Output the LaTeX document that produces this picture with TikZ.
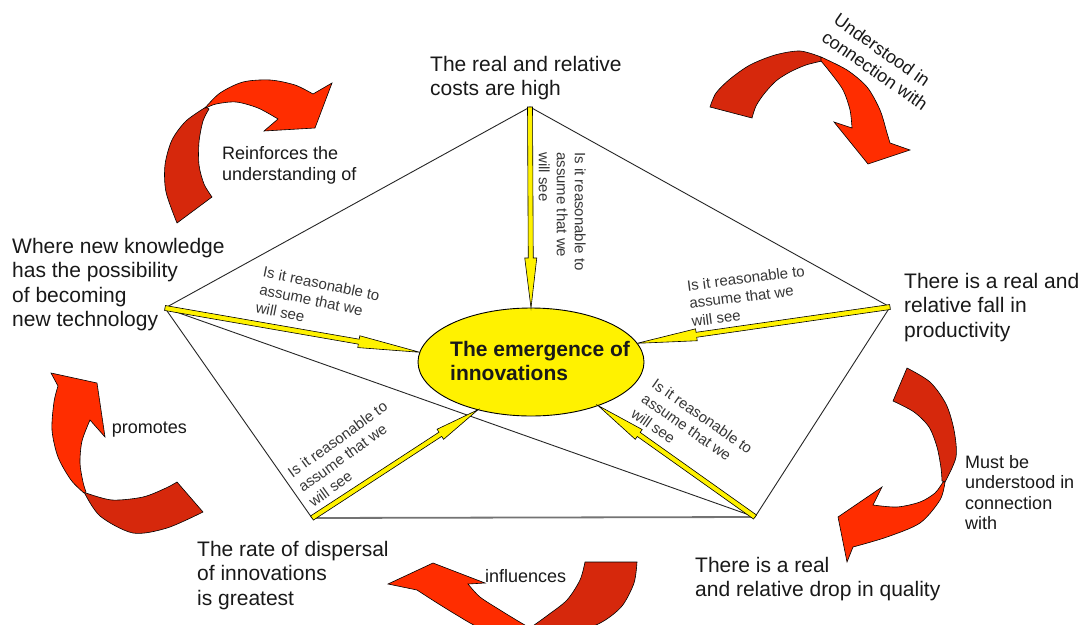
\documentclass[tikz,border=0pt]{standalone}
\usepackage{fontspec}
\setmainfont{Liberation Sans}
\usetikzlibrary{calc,shapes.geometric}
\definecolor{redfront}{RGB}{255,45,0}
\definecolor{redback}{RGB}{214,40,12}
\definecolor{txt}{RGB}{25,25,25}
\definecolor{txtsmall}{RGB}{55,55,55}
\tikzset{
  yarrow/.style={fill=yellow, draw=black, line width=0.6pt, line join=miter},
  redf/.style={fill=redfront, draw=black, line width=0.6pt},
  redb/.style={fill=redback, draw=black, line width=0.6pt},
  pentline/.style={draw=black!85, line width=0.9pt},
  bottomline/.style={draw=black!55, line width=1.8pt},
  mainlbl/.style={font=\fontsize{21}{24.5}\selectfont, text=txt, align=left, inner sep=0pt, anchor=north west},
  smalllbl/.style={font=\fontsize{18}{21}\selectfont, text=txt, align=left, inner sep=0pt, anchor=north west},
  qlbl/.style={font=\fontsize{15}{18}\selectfont, text=txtsmall, align=left, inner sep=0pt, anchor=north west},
}
% yellow block arrow: #1 start, #2 end, #3 head length
\newcommand\yarr[3]{%
  \coordinate (h-#1) at ($(#2)!#3pt!(#1)$);
  \filldraw[yarrow] ($(#1)!2.5pt!90:(#2)$) -- ($(h-#1)!2.5pt!90:(#2)$) -- ($(h-#1)!6pt!90:(#2)$) -- (#2)
    -- ($(h-#1)!6pt!-90:(#2)$) -- ($(h-#1)!2.5pt!-90:(#2)$) -- ($(#1)!2.5pt!-90:(#2)$) -- cycle;}
\begin{document}
\begin{tikzpicture}[x=1pt,y=-1pt]
\useasboundingbox (0,0) rectangle (1081,624);
\clip (0,0) rectangle (1081,624);
\fill[white] (0,0) rectangle (1081,624);

% vertices
\coordinate (vT) at (530,107);
\coordinate (vL) at (165,308);
\coordinate (vR) at (890,307);
\coordinate (vBR) at (755,517);
\coordinate (vBL) at (312,518);

% pentagon and diagonal
\draw[pentline] (vT) -- (vL);
\draw[pentline] (vT) -- (vR);
\draw[pentline] (vR) -- (vBR);
\draw[pentline] (vL) -- (vBL);
\draw[pentline] (vL) -- (vBR);
\draw[bottomline] (vBL) -- (vBR);

% central ellipse
\node[ellipse, minimum width=226pt, minimum height=108pt, inner sep=0pt, outer sep=0pt,
      fill=yellow, draw=black, line width=0.9pt] (ell) at (531,362) {};
\node[mainlbl, font=\fontsize{21}{24}\selectfont\bfseries] (lC) at (450,341) {The emergence of\\innovations};

% yellow arrows
\yarr{vT}{ell.north}{50}
\yarr{vL}{ell.175}{62}
\yarr{vR}{ell.10.4}{60}
\yarr{vBL}{ell.222.8}{45}
\yarr{vBR}{ell.-33.7}{50}

% main labels
\node[mainlbl] (lTop) at (430,56) {The real and relative\\costs are high};
\node[mainlbl] (lLeft) at (12,238) {Where new knowledge\\has the possibility\\of becoming\\new technology};
\node[mainlbl] (lRight) at (904,273) {There is a real and\\relative fall in\\productivity};
\node[mainlbl] (lBL) at (197,541) {The rate of dispersal\\of innovations\\is greatest};
\node[mainlbl] (lBR) at (695,557) {There is a real\\and relative drop in quality};

% question labels
\node[qlbl, rotate=-90] (qT) at (586,152) {Is it reasonable to\\assume that we\\will see};
\node[qlbl, rotate=-11.6] (qL) at (264.4,266.1) {Is it reasonable to\\assume that we\\will see};
\node[qlbl, rotate=7.2] (qR) at (686.2,280.1) {Is it reasonable to\\assume that we\\will see};
\node[qlbl, rotate=35.8] (qBL) at (285.9,469.3) {Is it reasonable to\\assume that we\\will see};
\node[qlbl, rotate=-35] (qBR) at (657,377.5) {Is it reasonable to\\assume that we\\will see};

% red curved arrows
% A: top-left
\filldraw[redb] plot[smooth] coordinates {(177,223) (166,192) (165,165) (172,140) (186,121) (206,107)}
  -- plot[smooth] coordinates {(209,109) (203,121) (199,142) (199,165) (204,184) (212,197)} -- cycle;
\filldraw[redf] plot[smooth] coordinates {(205,108) (220,93) (243,82) (270,80) (295,85) (313,94)}
  -- (332,83) -- (315,128) -- (264,131)
  -- plot[smooth] coordinates {(278,119) (258,108) (236,102) (216,104) (206,108)} -- cycle;
% B: top-right
\filldraw[redb] plot[smooth] coordinates {(752,118) (756,106) (764,94) (776,81) (790,72) (806,65) (822,61)}
  -- plot[smooth] coordinates {(821,57) (800,51) (775,55) (750,65) (730,79) (716,93) (710,107)} -- cycle;
\filldraw[redf] plot[smooth] coordinates {(821,57) (847,70) (867,87) (880,110) (887,133) (890,143)}
  -- (910,150) -- (868,164) -- (834,122)
  -- plot[smooth] coordinates {(852,128) (850,110) (843,90) (830,72) (821,61)} -- cycle;
% C: right
\filldraw[redb] plot[smooth] coordinates {(907,368) (930,382) (946,404) (954,430) (956,457) (945,482)}
  -- plot[smooth] coordinates {(942,481) (941,468) (937,447) (929,427) (914,412) (893,401)} -- cycle;
\filldraw[redf] plot[smooth] coordinates {(945,482) (940,500) (920,523) (887,537) (853,547)}
  -- (847,562) -- (838,517) -- (882,487)
  -- plot[smooth] coordinates {(873,505) (897,507) (920,502) (935,493) (943,482)} -- cycle;
% D: left
\filldraw[redb] plot[smooth] coordinates {(84,492) (100,516) (133,533) (167,528) (203,512)}
  -- plot[smooth] coordinates {(177,482) (166,488) (143,497) (112,500) (86,493)} -- cycle;
\filldraw[redf] plot[smooth] coordinates {(84,493) (71,480) (58,457) (52,430) (54,402) (58,386)}
  -- (51,373) -- (97,383) -- (105,437)
  -- plot[smooth] coordinates {(90,420) (82,441) (80,463) (83,482) (86,492)} -- cycle;
% E: bottom
\filldraw[redb] plot[smooth] coordinates {(637,562) (634,583) (622,606) (602,622) (572,634) (538,637)}
  -- plot[smooth] coordinates {(530,628) (548,615) (567,600) (580,580) (585,562)} -- cycle;
\filldraw[redf] plot[smooth] coordinates {(538,637) (505,635) (478,627) (455,614) (434,601) (417,590)}
  -- (388,584) -- (433,563) -- (485,583)
  -- plot[smooth] coordinates {(468,584) (480,597) (500,610) (518,621) (530,628)} -- cycle;

% arrow labels
\node[smalllbl] (lReinf) at (222,146) {Reinforces the\\understanding of};
\node[smalllbl, rotate=-35] (lUnd) at (840,12) {Understood in\\connection with};
\node[smalllbl, font=\fontsize{18}{20.5}\selectfont] (lMust) at (965,455) {Must be\\understood in\\connection\\with};
\node[smalllbl, anchor=base west] (lProm) at (111.7,433.3) {promotes};
\node[smalllbl, anchor=base west] (lInfl) at (485,582) {influences};
\end{tikzpicture}
\end{document}
